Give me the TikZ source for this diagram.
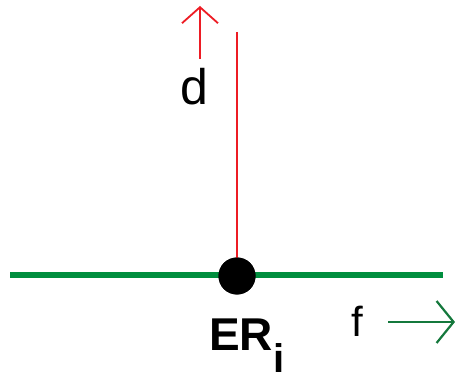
\documentclass[tikz,border=0pt]{standalone}
\usepackage{fontspec}
\setmainfont{Liberation Sans}
\usetikzlibrary{arrows.meta}
\definecolor{lgreen}{RGB}{0,142,62}
\definecolor{agreen}{RGB}{20,120,60}
\definecolor{lred}{RGB}{237,28,36}
\tikzset{
  baseline/.style={line width=6.5pt, draw=lgreen},
  redline/.style={line width=2pt, draw=lred},
  redarrow/.style={line width=1.8pt, draw=lred, -{Straight Barb[length=16pt,width=36pt,line width=1.8pt]}},
  greenarrow/.style={line width=2.2pt, draw=agreen, -{Straight Barb[length=17pt,width=42pt,line width=2.2pt]}},
  lbl/.style={inner sep=0pt, anchor=base}
}
\begin{document}
\begin{tikzpicture}[x=1pt,y=-1pt]
\useasboundingbox (0,0) rectangle (455,382);
\coordinate (gl) at (10,275);
\coordinate (gr) at (443,275);
\coordinate (rtop) at (237,32);
\coordinate (da) at (200,59);
\coordinate (db) at (200,6);
\coordinate (fa) at (388,322);
\coordinate (fb) at (455,322);
\draw[baseline] (gl) -- (gr);
\node[circle, fill=black, minimum size=37pt, inner sep=0pt] (er) at (237,276) {};
\draw[redline] (rtop) -- (er.center);
\fill[black] (er.center) circle (18.5pt);
\draw[redarrow] (da) -- (db);
\draw[greenarrow] (fa) -- (fb);
\node[lbl] (d) at (194,105) {\fontsize{50}{50}\selectfont d};
\node[lbl] (f) at (357,336) {\fontsize{42}{42}\selectfont f};
\node[lbl, anchor=base west] (erl) at (209,350) {\fontsize{46}{46}\selectfont\bfseries ER\raisebox{-22pt}{\fontsize{40}{40}\selectfont i}};
\end{tikzpicture}
\end{document}
